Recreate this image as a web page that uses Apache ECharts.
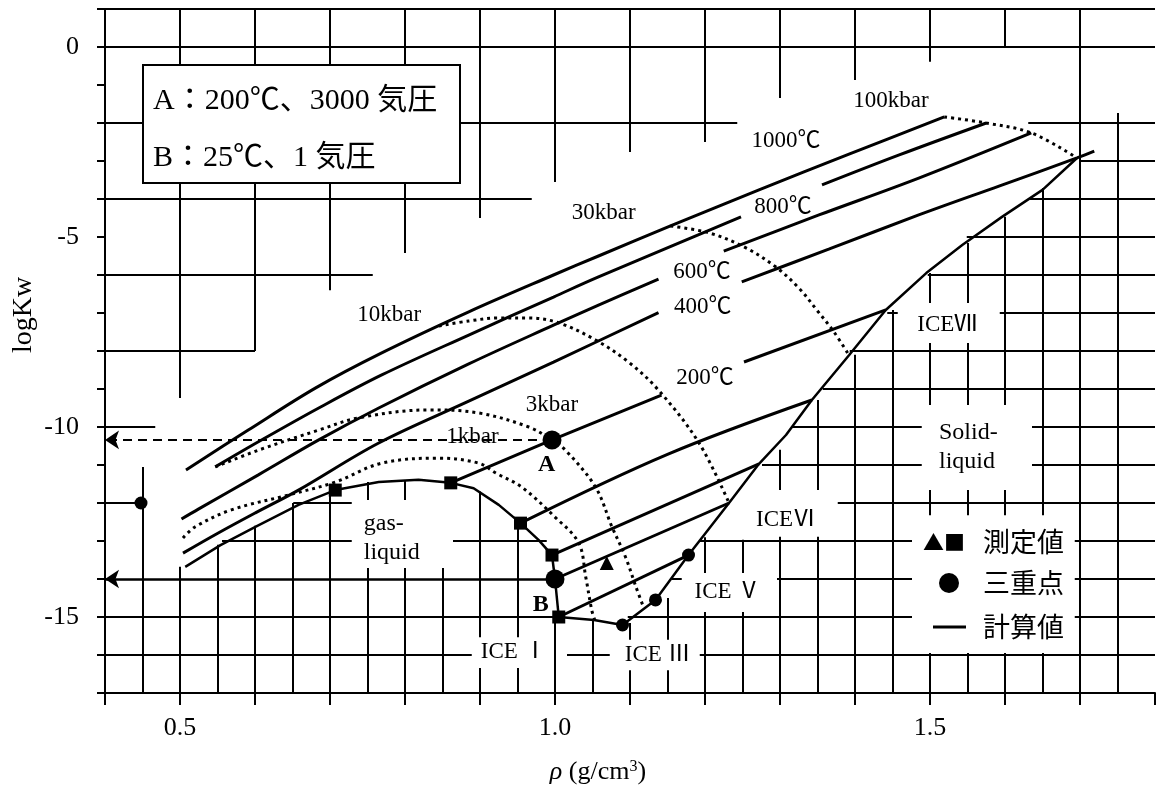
<!DOCTYPE html>
<html>
<head>
<meta charset="utf-8">
<title>logKw - ρ</title>
<script src="https://cdn.jsdelivr.net/npm/echarts@6/dist/echarts.min.js"></script>
<style>
  html, body { margin: 0; padding: 0; background: #fff; }
  #chart { width: 1158px; height: 789px; }
</style>
</head>
<body>
<div id="chart"></div>
<script>
// ---- isotherms (solid): [density g/cm3, logKw] ----
const iso1000 = [[0.508,-11.13],[0.591,-10.08],[0.681,-8.97],[0.769,-8.05],[0.885,-6.97],[0.998,-6.0],[1.058,-5.5],[1.154,-4.71],[1.272,-3.76],[1.392,-2.82],[1.519,-1.84]];
const iso800a = [[0.547,-11.05],[0.6045,-10.39],[0.685,-9.5],[0.769,-8.63],[0.885,-7.58],[0.998,-6.58],[1.058,-6.05],[1.248,-4.47]];
const iso800b = [[1.356,-3.63],[1.459,-2.84],[1.575,-2.0]];
const iso600a = [[0.502,-12.42],[0.5245,-12.16],[0.6045,-11.26],[0.685,-10.34],[0.765,-9.5],[0.885,-8.34],[0.998,-7.32],[1.058,-6.79],[1.138,-6.11]];
const iso600b = [[1.225,-5.37],[1.352,-4.42],[1.485,-3.45],[1.635,-2.26]];
const iso400a = [[0.504,-13.32],[0.551,-12.79],[0.6005,-12.26],[0.658,-11.66],[0.765,-10.42],[0.885,-9.32],[0.998,-8.29],[1.138,-6.99]];
const iso400b = [[1.249,-6.18],[1.365,-5.32],[1.485,-4.42],[1.592,-3.66],[1.696,-2.92],[1.719,-2.74]];
const iso200a = [[0.861,-11.47],[0.996,-10.34],[1.142,-9.16]];
const iso200b = [[1.252,-8.29],[1.441,-6.92]];
const isoLowA = [[0.954,-12.53],[1.15,-10.72],[1.3425,-9.29]];
const isoLowB = [[0.996,-13.37],[1.272,-10.97]];
const iso25 = [[1.0,-14.0],[1.232,-12.0]];
const isoLowC = [[1.005,-15.0],[1.178,-13.37]];

// ---- isobars (dotted) ----
const bar100 = [[1.519,-1.84],[1.575,-2.0],[1.635,-2.26],[1.696,-2.92]];
const bar30 = [[1.154,-4.71],[1.205,-4.89],[1.252,-5.26],[1.2945,-5.79],[1.325,-6.34],[1.349,-6.92],[1.372,-7.5],[1.392,-8.11]];
const bar10 = [[0.845,-7.34],[0.885,-7.21],[0.925,-7.13],[0.965,-7.13],[1.005,-7.26],[1.054,-7.71],[1.098,-8.29],[1.138,-9.03],[1.192,-10.42],[1.232,-12.0]];
const bar3 = [[0.547,-11.05],[0.6045,-10.61],[0.685,-10.08],[0.738,-9.76],[0.831,-9.55],[0.898,-9.63],[0.965,-10.0],[0.996,-10.34],[1.014,-10.61],[1.054,-11.58],[1.076,-12.63],[1.094,-13.42],[1.108,-14.21],[1.118,-14.74]];
const bar1 = [[0.504,-12.92],[0.52,-12.63],[0.5685,-12.18],[0.6446,-11.79],[0.707,-11.45],[0.769,-10.95],[0.845,-10.82],[0.898,-10.95],[0.921,-11.21],[0.9555,-11.58],[1.0,-12.37],[1.0316,-13.05],[1.041,-13.95],[1.049,-14.82],[1.053,-15.08]];

// ---- phase boundaries ----
const gasLiquid = [[0.507,-13.68],[0.554,-13.11],[0.6005,-12.63],[0.658,-12.05],[0.707,-11.66],[0.765,-11.45],[0.818,-11.39],[0.861,-11.47],[0.8915,-11.61],[0.925,-12.05],[0.954,-12.53],[0.978,-12.97],[0.996,-13.37],[1.0,-14.0],[1.005,-15.0],[1.052,-15.08],[1.09,-15.21]];
const meltCurve = [[1.09,-15.21],[1.134,-14.55],[1.178,-13.37],[1.232,-12.0],[1.272,-10.97],[1.308,-10.21],[1.3425,-9.29],[1.392,-8.11],[1.441,-6.92],[1.495,-5.95],[1.543,-5.21],[1.596,-4.47],[1.65,-3.76],[1.696,-2.92]];

// ---- points ----
const measuredSquares = [[0.707,-11.66],[0.861,-11.47],[0.954,-12.53],[0.996,-13.37],[1.005,-15.0]];
const measuredTriangles = [[1.069,-13.58]];
const triplePoints = [[0.448,-12.0],[1.09,-15.21],[1.134,-14.55],[1.178,-13.37]];
const stateA = [0.996,-10.34];
const stateB = [1.0,-14.0];

// ---- text placed in data space ----
const tempLabels = [['1000℃',1.308,-2.47],['800℃',1.304,-4.21],['600℃',1.196,-5.92],['400℃',1.197,-6.84],['200℃',1.2,-8.71]];
const pressureLabels = [['100kbar',1.448,-1.42],['30kbar',1.065,-4.37],['10kbar',0.779,-7.05],['3kbar',0.996,-9.42],['1kbar',0.89,-10.26]];
const phaseLabels = [['ICE Ⅰ',0.945,-15.92],['ICE Ⅲ',1.137,-16.0],['ICE Ⅴ',1.23,-14.34],['ICEⅥ',1.308,-12.45],['ICEⅦ',1.523,-7.32]];
const regionLabels = [['Solid-\nliquid',1.512,-10.53],['gas-\nliquid',0.745,-12.92]];
const pointLabels = [['A',0.989,-11.0],['B',0.981,-14.68]];

// ---- axis ticks ----
const xTickLabels = [0.5, 1.0, 1.5];
const yTickLabels = [0, -5, -10, -15];

// ---- grid rulings: vertical [x, yFrom, yTo], horizontal [y, xFrom, xTo] ----
const gridV = [
  [0.45,-11.05,-17],
  [0.5,1,-9.24],[0.5,-13.68,-17],
  [0.55,-13.1,-17],
  [0.6,1,-8],[0.6,-12.6,-17],
  [0.65,-12.0,-17],
  [0.7,1,-6.4],[0.7,-11.65,-17],
  [0.75,-11.45,-11.92],[0.75,-13.71,-17],
  [0.8,1,-5.42],[0.8,-11.4,-11.92],[0.8,-13.71,-17],
  [0.85,-13.71,-17],
  [0.9,1,-4.5],[0.9,-11.7,-15.53],[0.9,-16.34,-17],
  [0.95,-12.5,-15.53],[0.95,-16.34,-17],
  [1.0,1,-3.55],[1.0,-15.0,-17],
  [1.05,-15.08,-17],
  [1.1,1,-2.76],[1.1,-15.16,-15.6],[1.1,-16.4,-17],
  [1.15,-14.5,-15.6],[1.15,-16.4,-17],
  [1.2,1,-2.5],[1.2,-12.9,-13.84],[1.2,-14.87,-17],
  [1.25,-12.97,-13.84],[1.25,-14.87,-17],
  [1.3,1,-1.34],[1.3,-10.6,-11.66],[1.3,-12.89,-17],
  [1.35,-9.29,-11.66],[1.35,-12.89,-17],
  [1.4,1,-0.87],[1.4,-8.1,-17],
  [1.45,-6.92,-17],
  [1.5,1,-0.39],[1.5,-5.95,-6.74],[1.5,-7.79,-9.42],[1.5,-11.66,-12.32],[1.5,-15.95,-17],
  [1.55,-5.16,-6.74],[1.55,-7.79,-9.42],[1.55,-11.66,-12.32],[1.55,-15.95,-17],
  [1.6,1,0],[1.6,-4.47,-9.42],[1.6,-11.66,-12.32],[1.6,-15.95,-17],
  [1.65,-3.71,-12.32],[1.65,-15.95,-17],
  [1.7,1,-17],
  [1.75,-1.74,-17]
];
const gridH = [
  [1,0.4,1.8],
  [0,0.4,1.8],
  [-2,0.4,0.451],[-2,0.873,1.243],[-2,1.631,1.8],
  [-3,1.7,1.8],
  [-4,0.4,0.969],[-4,1.633,1.8],
  [-5,1.549,1.8],
  [-6,0.4,0.757],[-6,1.497,1.8],
  [-7,1.443,1.457],[-7,1.593,1.8],
  [-8,0.4,0.6],[-8,1.393,1.8],
  [-9,1.357,1.8],
  [-10,0.4,0.467],[-10,1.316,1.489],[-10,1.636,1.8],
  [-11,1.276,1.489],[-11,1.636,1.8],
  [-12,0.4,0.448],[-12,0.651,0.729],[-12,1.377,1.8],
  [-13,0.556,0.729],[-13,0.864,0.989],[-13,1.193,1.476],[-13,1.693,1.8],
  [-14,1.156,1.169],[-14,1.296,1.476],[-14,1.693,1.8],
  [-15,0.4,1.005],[-15,1.097,1.476],[-15,1.693,1.8],
  [-16,0.4,0.889],[-16,1.016,1.073],[-16,1.193,1.8]
];

const SERIF = "'Liberation Serif','Times New Roman','Noto Sans CJK JP',serif";
const CJK = "'Noto Sans CJK JP','Noto Sans CJK SC',sans-serif";
const INK = '#000';

const gridSegments = [];
gridV.forEach(([x, y1, y2]) => gridSegments.push({ coords: [[x, y1], [x, y2]] }));
gridH.forEach(([y, x1, x2]) => gridSegments.push({ coords: [[x1, y], [x2, y]] }));

function curve(data, dotted, smooth, width) {
  return {
    type: 'line', data: data, symbol: 'none', showSymbol: false,
    smooth: smooth ? 0.35 : false,
    lineStyle: { color: INK, width: width || 3, type: dotted ? [3, 4] : 'solid', cap: 'butt', opacity: 1 },
    silent: true, z: 3, animation: false
  };
}

function marks(data, symbol, size) {
  return {
    type: 'scatter', data: data, symbol: symbol, symbolSize: size,
    itemStyle: { color: INK, opacity: 1 }, z: 6, silent: true, animation: false
  };
}

function textSeries(list, style) {
  return {
    type: 'scatter', symbolSize: 1, itemStyle: { color: 'rgba(255,255,255,0)', opacity: 1 },
    data: list.map(t => ({ name: t[0], value: [t[1], t[2]] })),
    label: Object.assign({ show: true, position: 'inside', formatter: '{b}', color: INK, opacity: 1,
      textBorderWidth: 0, fontFamily: SERIF, fontSize: 23 }, style),
    silent: true, z: 10, animation: false
  };
}

const chart = echarts.init(document.getElementById('chart'), null, { renderer: 'canvas' });

chart.setOption({
  backgroundColor: '#fff',
  animation: false,
  grid: { left: 105, top: 9, width: 1050, height: 684, containLabel: false },
  xAxis: {
    type: 'value', min: 0.4, max: 1.8, interval: 0.1,
    axisLine: { show: true, onZero: false, lineStyle: { color: INK, width: 2 } },
    axisTick: { show: true, inside: false, length: 12, lineStyle: { color: INK, width: 2 } },
    axisLabel: {
      color: INK, fontFamily: SERIF, fontSize: 26, margin: 22,
      formatter: v => {
        const hit = xTickLabels.find(t => Math.abs(t - v) < 1e-6);
        return hit === undefined ? '' : hit.toFixed(1);
      }
    },
    splitLine: { show: false }
  },
  yAxis: {
    type: 'value', min: -17, max: 1, interval: 1,
    axisLine: { show: true, onZero: false, lineStyle: { color: INK, width: 2 } },
    axisTick: { show: true, inside: false, length: 8, lineStyle: { color: INK, width: 2 } },
    axisLabel: {
      color: INK, fontFamily: SERIF, fontSize: 26, margin: 26,
      formatter: v => (yTickLabels.indexOf(Math.round(v)) >= 0 && Math.abs(v - Math.round(v)) < 1e-6) ? String(Math.round(v)) : ''
    },
    splitLine: { show: false }
  },
  series: [
    {
      type: 'lines', coordinateSystem: 'cartesian2d', polyline: false,
      data: gridSegments, symbol: 'none',
      lineStyle: { color: INK, width: 2, opacity: 1, curveness: 0 },
      silent: true, z: 1, animation: false
    },
    // isotherms
    curve(iso1000, false, true), curve(iso800a, false, true), curve(iso800b, false, true),
    curve(iso600a, false, true), curve(iso600b, false, true),
    curve(iso400a, false, true), curve(iso400b, false, true),
    curve(iso200a, false, false), curve(iso200b, false, false),
    curve(isoLowA, false, true), curve(isoLowB, false, false),
    curve(iso25, false, false), curve(isoLowC, false, false),
    // isobars
    curve(bar100, true, true), curve(bar30, true, true), curve(bar10, true, true),
    curve(bar3, true, true), curve(bar1, true, true),
    // phase boundaries
    curve(gasLiquid, false, false, 2.5), curve(meltCurve, false, false, 2.5),
    // reading arrows to the logKw axis
    {
      type: 'lines', coordinateSystem: 'cartesian2d',
      symbol: ['none', 'arrow'], symbolSize: 14,
      data: [{ coords: [stateA, [0.4, stateA[1]]] }],
      lineStyle: { color: INK, width: 2, opacity: 1, type: [9, 6] },
      silent: true, z: 4, animation: false
    },
    {
      type: 'lines', coordinateSystem: 'cartesian2d',
      symbol: ['none', 'arrow'], symbolSize: 14,
      data: [{ coords: [stateB, [0.4, stateB[1]]] }],
      lineStyle: { color: INK, width: 2.5, opacity: 1 },
      silent: true, z: 4, animation: false
    },
    // markers
    marks(measuredSquares, 'rect', 13),
    marks(measuredTriangles, 'triangle', 14),
    marks(triplePoints, 'circle', 13),
    marks([stateA, stateB], 'circle', 19),
    // text
    textSeries(tempLabels, {}),
    textSeries(pressureLabels, {}),
    textSeries(phaseLabels, {}),
    textSeries(regionLabels, { align: 'left', fontSize: 24, lineHeight: 29 }),
    textSeries(pointLabels, { fontWeight: 'bold', fontSize: 24 })
  ],
  graphic: [
    // condition box
    { type: 'rect', shape: { x: 143, y: 65, width: 317, height: 118 },
      style: { fill: '#fff', stroke: INK, lineWidth: 2 }, z: 100 },
    { type: 'text', x: 153, y: 101, z: 101,
      style: { text: 'A：200℃、3000 気圧', fill: INK, fontSize: 30, fontFamily: SERIF, verticalAlign: 'middle', align: 'left' } },
    { type: 'text', x: 153, y: 158, z: 101,
      style: { text: 'B：25℃、1 気圧', fill: INK, fontSize: 30, fontFamily: SERIF, verticalAlign: 'middle', align: 'left' } },
    // key
    { type: 'text', x: 944, y: 542, z: 101,
      style: { text: '▲■', fill: INK, fontSize: 21, fontFamily: CJK, verticalAlign: 'middle', align: 'center' } },
    { type: 'text', x: 983, y: 542, z: 101,
      style: { text: '測定値', fill: INK, fontSize: 27, fontFamily: CJK, verticalAlign: 'middle', align: 'left' } },
    { type: 'circle', shape: { cx: 949, cy: 583, r: 10 }, style: { fill: INK }, z: 101 },
    { type: 'text', x: 983, y: 583, z: 101,
      style: { text: '三重点', fill: INK, fontSize: 27, fontFamily: CJK, verticalAlign: 'middle', align: 'left' } },
    { type: 'line', shape: { x1: 933, y1: 627, x2: 966, y2: 627 }, style: { stroke: INK, lineWidth: 3 }, z: 101 },
    { type: 'text', x: 983, y: 627, z: 101,
      style: { text: '計算値', fill: INK, fontSize: 27, fontFamily: CJK, verticalAlign: 'middle', align: 'left' } },
    // axis titles
    { type: 'text', x: 24, y: 315, rotation: Math.PI / 2, z: 101,
      style: { text: 'logKw', fill: INK, fontSize: 28, fontFamily: SERIF, verticalAlign: 'middle', align: 'center' } },
    { type: 'text', x: 598, y: 772, z: 101,
      style: {
        text: '{i|ρ} (g/cm{s|3})', fill: INK, fontSize: 26, fontFamily: SERIF, verticalAlign: 'middle', align: 'center',
        rich: {
          i: { fontStyle: 'italic', fontSize: 26, fontFamily: SERIF, fill: INK },
          s: { fontSize: 16, fontFamily: SERIF, fill: INK, verticalAlign: 'top', padding: [0, 0, 10, 0] }
        }
      } }
  ]
});
</script>
</body>
</html>
